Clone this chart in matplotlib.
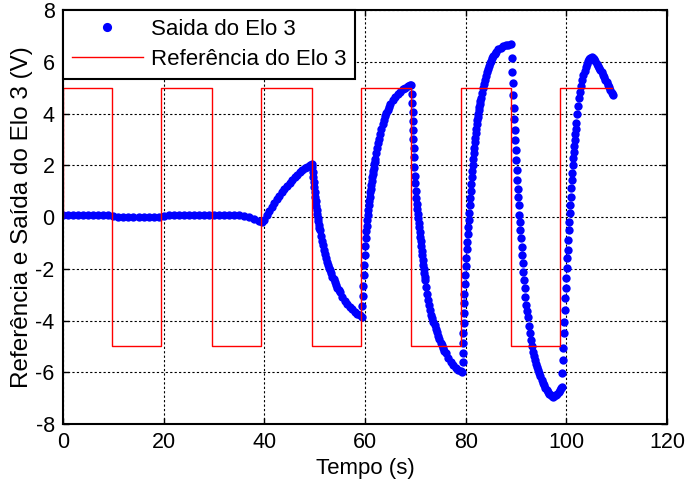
import numpy as np
import matplotlib
matplotlib.use('Agg')
import matplotlib.pyplot as plt

plt.rcParams['font.family'] = ['Liberation Sans', 'DejaVu Sans']
plt.rcParams['axes.unicode_minus'] = False

t_flat = [0, 1, 2, 3, 4, 5, 6, 7, 8, 9, 10, 11, 12, 13, 14, 15, 16, 17, 18, 19,
          20, 21, 22, 23, 24, 25, 26, 27, 28, 29, 30, 31, 32, 33, 34, 35, 36, 37, 38, 39]
y_flat = [0.08, 0.08, 0.08, 0.08, 0.08, 0.08, 0.08, 0.08, 0.08, 0.08,
          0.04, 0.01, 0.01, 0.01, 0.01, 0.01, 0.01, 0.01, 0.01, 0.01,
          0.05, 0.08, 0.08, 0.08, 0.08, 0.08, 0.08, 0.08, 0.08, 0.08,
          0.06, 0.06, 0.06, 0.06, 0.06, 0.06, 0.04, 0.0, -0.06, -0.14]

t_ramp = [39.5, 40.0, 40.5, 41.0, 41.5, 42.0, 42.5, 43.0, 43.5, 44.0, 44.5, 45.0,
          45.5, 46.0, 46.5, 47.0, 47.5, 48.0, 48.5, 49.0, 49.4]
y_ramp = [-0.2, -0.1, 0.08, 0.25, 0.4, 0.55, 0.7, 0.83, 0.96, 1.08, 1.2, 1.32,
          1.43, 1.54, 1.64, 1.73, 1.81, 1.88, 1.95, 2.0, 2.05]

t_c = [49.5, 49.6, 49.7, 49.8, 49.9, 50.0, 50.1, 50.2, 50.3, 50.4, 50.5, 50.6, 50.7, 50.8,
       50.9, 51.0, 51.2, 51.4, 51.6, 51.8, 52.0, 52.2, 52.4, 52.6, 52.8, 53.0, 53.25, 53.5,
       53.75, 54.0, 54.25, 54.5, 54.75, 55.0, 55.5, 56.0, 56.5, 57.0, 57.5, 58.0, 58.5, 59.0, 59.3]
y_c = [1.95, 1.75, 1.55, 1.35, 1.15, 0.95, 0.77, 0.6, 0.43, 0.27, 0.12, -0.03, -0.17, -0.3,
       -0.41, -0.5, -0.72, -0.92, -1.1, -1.27, -1.43, -1.58, -1.72, -1.85, -1.96, -2.05, -2.18, -2.3,
       -2.41, -2.52, -2.63, -2.73, -2.82, -2.91, -3.08, -3.23, -3.36, -3.47, -3.57, -3.66, -3.73, -3.8, -3.85]

t_d = [59.4, 59.5, 59.6, 59.7, 59.8, 59.9, 60.0, 60.1, 60.2, 60.3, 60.4, 60.5,
       60.6, 60.7, 60.8, 60.9, 61.0, 61.1, 61.2, 61.3, 61.4, 61.5, 61.6, 61.7, 61.8, 61.9, 62.0,
       62.2, 62.4, 62.6, 62.8, 63.0, 63.25, 63.5, 63.75, 64.0, 64.25, 64.5, 64.75, 65.0,
       65.5, 66.0, 66.5, 67.0, 67.5, 68.0, 68.5, 69.0, 69.2]
y_d = [-3.45, -3.05, -2.65, -2.25, -1.85, -1.47, -1.12, -0.82, -0.56, -0.33, -0.12, 0.08,
       0.27, 0.45, 0.62, 0.79, 0.95, 1.1, 1.25, 1.39, 1.53, 1.66, 1.79, 1.91, 2.03, 2.14, 2.25,
       2.46, 2.66, 2.85, 3.03, 3.2, 3.4, 3.58, 3.74, 3.89, 4.02, 4.14, 4.25, 4.35,
       4.52, 4.65, 4.76, 4.85, 4.93, 4.99, 5.05, 5.09, 5.1]

t_e = [69.3, 69.4, 69.45, 69.5, 69.55, 69.6, 69.7, 69.75, 69.8, 69.9,
       70.0, 70.1, 70.2, 70.3, 70.4, 70.5, 70.6, 70.7, 70.8, 70.9, 71.0, 71.1, 71.2, 71.3,
       71.4, 71.5, 71.6, 71.7, 71.8, 71.9, 72.0,
       72.2, 72.4, 72.6, 72.8, 73.0, 73.2, 73.4, 73.6, 73.8, 74.0,
       74.25, 74.5, 74.75, 75.0, 75.25, 75.5, 75.75, 76.0,
       76.5, 77.0, 77.5, 78.0, 78.5, 79.0, 79.3]
y_e = [4.75, 4.4, 4.05, 3.7, 3.35, 3.0, 2.65, 2.3, 1.95, 1.6,
       1.3, 1.0, 0.75, 0.5, 0.3, 0.12, -0.05, -0.22, -0.4, -0.58, -0.76, -0.94, -1.12, -1.3,
       -1.48, -1.66, -1.84, -2.0, -2.15, -2.3, -2.45,
       -2.72, -2.97, -3.2, -3.41, -3.6, -3.77, -3.92, -4.06, -4.19, -4.31,
       -4.46, -4.6, -4.73, -4.85, -4.96, -5.07, -5.17, -5.27,
       -5.45, -5.6, -5.72, -5.83, -5.91, -5.97, -6.0]

t_f = [79.4, 79.45, 79.5, 79.55, 79.6, 79.65, 79.7, 79.75, 79.8,
       79.9, 80.0, 80.1, 80.2, 80.3, 80.4, 80.5, 80.6, 80.7, 80.8, 80.9, 81.0, 81.1, 81.2,
       81.3, 81.4, 81.5, 81.6, 81.7, 81.8, 81.9, 82.0, 82.1, 82.2, 82.3, 82.4, 82.5, 82.6,
       82.7, 82.8, 82.9, 83.0,
       83.2, 83.4, 83.6, 83.8, 84.0, 84.2, 84.4, 84.6, 84.8, 85.0,
       85.25, 85.5, 85.75, 86.0, 86.5, 87.0, 87.5, 88.0, 88.5, 88.9]
y_f = [-5.62, -5.24, -4.86, -4.48, -4.1, -3.72, -3.34, -2.96, -2.6,
       -2.25, -1.9, -1.57, -1.25, -0.95, -0.65, -0.37, -0.1, 0.17, 0.45, 0.73, 1.0, 1.27, 1.53,
       1.78, 2.02, 2.25, 2.47, 2.68, 2.88, 3.07, 3.25, 3.42, 3.58, 3.73, 3.87, 4.0, 4.12,
       4.24, 4.36, 4.47, 4.58,
       4.79, 4.97, 5.14, 5.3, 5.45, 5.59, 5.72, 5.84, 5.95, 6.04,
       6.14, 6.23, 6.31, 6.38, 6.48, 6.55, 6.6, 6.63, 6.66, 6.67]

t_g = [89.15, 89.25, 89.35, 89.45, 89.55, 89.65, 89.75, 89.85, 89.95, 90.05,
       90.15, 90.25, 90.35, 90.45, 90.55, 90.65, 90.75, 90.85,
       90.97, 91.09, 91.21, 91.33, 91.45, 91.58, 91.71, 91.85, 92.0, 92.15, 92.3,
       92.5, 92.7, 92.9, 93.1, 93.3, 93.5, 93.7, 93.9, 94.1,
       94.35, 94.6, 94.85, 95.1, 95.35, 95.6, 95.85, 96.1, 96.35, 96.6, 96.85, 97.1, 97.35, 97.6,
       97.9, 98.2, 98.5, 98.8, 99.0]
y_g = [6.13, 5.62, 5.17, 4.7, 4.2, 3.8, 3.36, 2.98, 2.6, 2.2,
       1.8, 1.43, 1.1, 0.78, 0.46, 0.08, -0.18, -0.5,
       -0.82, -1.15, -1.47, -1.79, -2.11, -2.43, -2.76, -3.08, -3.4, -3.65, -3.88,
       -4.2, -4.5, -4.77, -5.0, -5.2, -5.38, -5.54, -5.68, -5.8,
       -5.93, -6.04, -6.16, -6.28, -6.4, -6.51, -6.61, -6.7, -6.78, -6.84, -6.89, -6.92, -6.94, -6.93,
       -6.89, -6.83, -6.76, -6.68, -6.6]

t_h = [99.1, 99.2, 99.3, 99.4, 99.5, 99.6, 99.7, 99.8, 99.9, 100.0,
       100.1, 100.2, 100.3, 100.4, 100.5, 100.6, 100.7, 100.8, 100.9, 101.0,
       101.1, 101.2, 101.3, 101.4, 101.5, 101.6, 101.7, 101.8, 101.9, 102.0,
       102.2, 102.4, 102.6, 102.8, 103.0, 103.2, 103.4, 103.6, 103.8, 104.0,
       104.25, 104.5, 104.75, 105.0, 105.25, 105.5, 105.75, 106.0, 106.25, 106.5,
       106.75, 107.0, 107.25, 107.5, 107.75, 108.0, 108.25, 108.5, 108.75, 109.0, 109.3]
y_h = [-6.56, -6.04, -5.53, -5.08, -4.5, -4.05, -3.6, -3.14, -2.76, -2.37,
       -1.98, -1.6, -1.28, -0.89, -0.5, -0.18, 0.14, 0.46, 0.78, 1.11,
       1.43, 1.72, 2.0, 2.27, 2.52, 2.76, 2.99, 3.21, 3.42, 3.62,
       3.98, 4.3, 4.58, 4.84, 5.07, 5.28, 5.47, 5.64, 5.78, 5.9,
       6.02, 6.1, 6.15, 6.17, 6.15, 6.1, 6.02, 5.93, 5.85, 5.77,
       5.68, 5.59, 5.5, 5.4, 5.31, 5.21, 5.11, 5.01, 4.91, 4.8, 4.71]

# referencia (onda quadrada)
ref_t = [0, 0, 9.8, 19.5, 29.6, 39.4, 49.4, 59.2, 69.1, 79.0, 88.95, 98.8, 109.0]
ref_v = [0, 5, -5, 5, -5, 5, -5, 5, -5, 5, -5, 5, 5]

t_out = np.concatenate([t_flat, t_ramp, t_c, t_d, t_e, t_f, t_g, t_h])
y_out = np.concatenate([y_flat, y_ramp, y_c, y_d, y_e, y_f, y_g, y_h])

fig = plt.figure(figsize=(6.85, 4.95), dpi=100)
ax = fig.add_axes([0.092, 0.1434, 0.8818, 0.8364])

ax.plot(t_out, y_out, linestyle='none', marker='o', markersize=6, markeredgewidth=0,
        color='#0000ff', label='Saida do Elo 3')
ax.step(ref_t, ref_v, where='post', color='#ff0000', linewidth=1.0,
        label='Referência do Elo 3')

ax.set_xlim(0, 120)
ax.set_ylim(-8, 8)
ax.set_xticks(range(0, 121, 20))
ax.set_yticks(range(-8, 9, 2))
ax.grid(True, color='k', linestyle=(0, (2, 2)), linewidth=0.8)
ax.tick_params(direction='in', top=True, right=True, length=4, width=1,
               labelsize=15.5, pad=6)
for s in ax.spines.values():
    s.set_linewidth(1.5)

ax.set_xlabel('Tempo (s)', fontsize=16, labelpad=3)
ax.set_ylabel('Referência e Saída do Elo 3 (V)', fontsize=17.5, labelpad=2)

leg = ax.legend(loc='upper left', borderaxespad=0, fancybox=False, edgecolor='k',
                framealpha=1, fontsize=16, handlelength=3.2, handletextpad=0.35,
                labelspacing=0.4, borderpad=0.4, numpoints=1, markerscale=1.1)
leg.get_frame().set_linewidth(1.5)

fig.savefig('out.png', dpi=100)
